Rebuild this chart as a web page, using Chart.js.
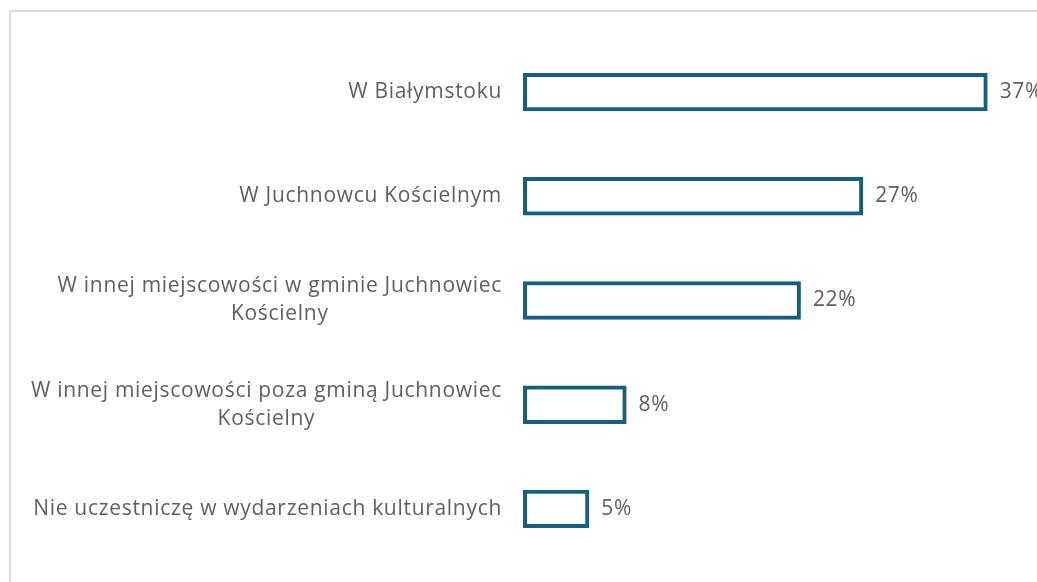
<!DOCTYPE html>
<html>
<head>
<meta charset="utf-8">
<script src="https://cdn.jsdelivr.net/npm/chart.js@4"></script>
<style>
  body { margin: 0; background: #fff; overflow: hidden; }
  #frame { position: absolute; left: 9px; top: 10px; width: 1100px; height: 700px;
           border-left: 2px solid #dadada; border-top: 2px solid #dadada; }
  #chart { position: absolute; left: 0; top: 0; }
</style>
</head>
<body>
<div id="frame"></div>
<canvas id="chart" width="1037" height="582"></canvas>
<script>
// categories (each one is a list of lines)
var categories = [
    ['W Białymstoku'],
    ['W Juchnowcu Kościelnym'],
    ['W innej miejscowości w gminie Juchnowiec', 'Kościelny'],
    ['W innej miejscowości poza gminą Juchnowiec', 'Kościelny'],
    ['Nie uczestniczę w wydarzeniach kulturalnych']
];
var values = [37, 27, 22, 8, 5];
var valueLabels = ['37%', '27%', '22%', '8%', '5%'];

var textColor = '#5f5f5f';
var labelFont = '21px "Open Sans"';
var letterSpace = '0.7px';
var lineHeight = 28;

// category text on the left, centred lines, longest line right aligned
var categoryLabels = {
    id: 'categoryLabels',
    afterDatasetsDraw: function (chart) {
        var ctx = chart.ctx;
        var yScale = chart.scales.y;
        var right = chart.chartArea.left - 23;
        ctx.save();
        ctx.font = labelFont;
        ctx.letterSpacing = letterSpace;
        ctx.fillStyle = textColor;
        ctx.textAlign = 'center';
        ctx.textBaseline = 'middle';
        categories.forEach(function (lines, i) {
            var y = yScale.getPixelForValue(i);
            var w = Math.max.apply(null, lines.map(function (l) { return ctx.measureText(l).width; }));
            var cx = right - w / 2;
            var top = y - (lines.length - 1) * lineHeight / 2;
            lines.forEach(function (l, j) {
                ctx.fillText(l, cx, top + j * lineHeight);
            });
        });
        ctx.restore();
    }
};

// percentage text at the end of each bar
var valueText = {
    id: 'valueText',
    afterDatasetsDraw: function (chart) {
        var ctx = chart.ctx;
        var meta = chart.getDatasetMeta(0);
        ctx.save();
        ctx.font = labelFont;
        ctx.letterSpacing = letterSpace;
        ctx.fillStyle = textColor;
        ctx.textAlign = 'left';
        ctx.textBaseline = 'middle';
        meta.data.forEach(function (bar, i) {
            ctx.fillText(valueLabels[i], bar.x + 14, bar.y);
        });
        ctx.restore();
    }
};

new Chart(document.getElementById('chart'), {
    type: 'bar',
    data: {
        labels: categories,
        datasets: [{
            data: values,
            backgroundColor: '#ffffff',
            borderColor: '#156082',
            borderWidth: 4,
            borderSkipped: false,
            inflateAmount: 2,
            clip: false,
            barPercentage: 0.33,
            categoryPercentage: 1
        }]
    },
    options: {
        indexAxis: 'y',
        responsive: false,
        animation: false,
        devicePixelRatio: 1,
        layout: {
            padding: { left: 525, right: 14, top: 40, bottom: 21 }
        },
        scales: {
            x: { display: false, min: 0, max: 40 },
            y: { display: false }
        },
        plugins: {
            legend: { display: false },
            tooltip: { enabled: false }
        }
    },
    plugins: [categoryLabels, valueText]
});
</script>
</body>
</html>
